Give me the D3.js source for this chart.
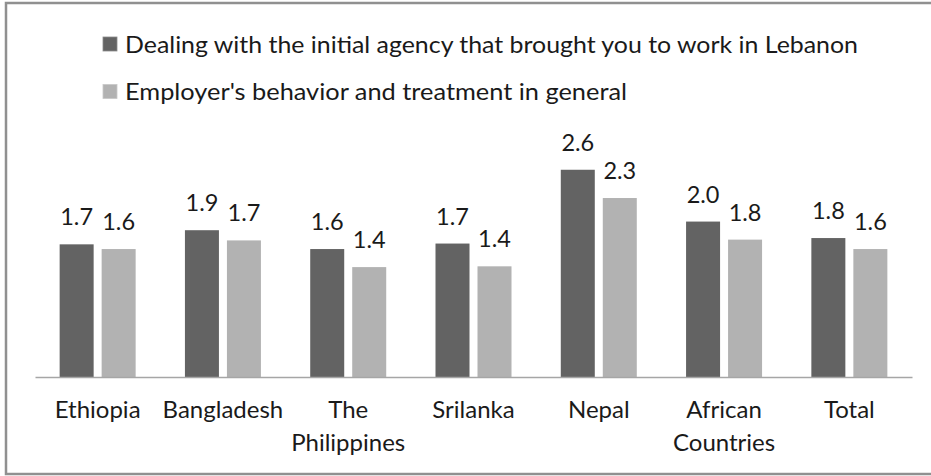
<!DOCTYPE html>
<html><head><meta charset="utf-8">
<script src="https://cdn.jsdelivr.net/npm/d3@7"></script>
<style>html,body{margin:0;padding:0;background:#fff;overflow:hidden}svg{display:block}</style>
</head><body>
<svg id="chart" width="931" height="476"></svg>
<script>
const categories = [["Ethiopia"],["Bangladesh"],["The","Philippines"],["Srilanka"],["Nepal"],["African","Countries"],["Total"]];
const seriesNames = ["Dealing with the initial agency that brought you to work in Lebanon","Employer's behavior and treatment in general"];
const agencyValues = [1.69,1.87,1.63,1.70,2.64,1.98,1.77];
const employerValues = [1.63,1.74,1.40,1.41,2.28,1.75,1.63];
const seriesColors = ["#636363","#b2b2b2"];

const svg = d3.select("#chart");
const font = "Lato, 'Open Sans', sans-serif";
const W = 931, H = 476;
const plot = {left:35, right:912, top:141.5, bottom:377};
const legendTextWidths = [733, 502];

// frame
svg.append("rect").attr("x",6).attr("y",3).attr("width",W).attr("height",471)
  .attr("fill","#fff").attr("stroke","#909090").attr("stroke-width",2.5);

const keys = categories.map(c=>c.join(" "));
const x0 = d3.scaleBand().domain(keys).range([plot.left, plot.right]).paddingInner(0).paddingOuter(0);
const groupW = 76;
const x1 = d3.scaleBand().domain([0,1]).range([-groupW/2, groupW/2]).paddingInner(8/42).paddingOuter(0);
const y = d3.scaleLinear().domain([0,3]).range([plot.bottom, plot.top]);

const data = keys.map((k,i)=>({key:k, vals:[agencyValues[i], employerValues[i]]}));

const g = svg.append("g");
const groups = g.selectAll("g.grp").data(data).join("g")
  .attr("transform", d=>`translate(${x0(d.key)+x0.bandwidth()/2},0)`);
groups.selectAll("rect").data(d=>d.vals.map((v,s)=>({v,s}))).join("rect")
  .attr("x", d=>x1(d.s)).attr("width", x1.bandwidth())
  .attr("y", d=>y(d.v)).attr("height", d=>y(0)-y(d.v))
  .attr("fill", d=>seriesColors[d.s]);
groups.selectAll("text").data(d=>d.vals.map((v,s)=>({v,s}))).join("text")
  .attr("x", d=>x1(d.s)+x1.bandwidth()/2).attr("y", d=>y(d.v)-19)
  .attr("text-anchor","middle").attr("font-family",font).attr("font-size",23.5)
  .attr("fill","#1a1a1a").text(d=>d3.format(".1f")(d.v));

// x axis
const xAxis = svg.append("g").attr("transform",`translate(0,${plot.bottom})`)
  .call(d3.axisBottom(x0).tickSize(0).tickFormat(""));
xAxis.select(".domain").attr("stroke","#a6a6a6").attr("stroke-width",1.3);
const tick = xAxis.selectAll(".tick");
tick.select("text").remove();
tick.append("text").attr("text-anchor","middle").attr("font-family",font)
  .attr("font-size",24).attr("fill","#1a1a1a")
  .each(function(d,i){
    const t = d3.select(this);
    categories[i].forEach((line,j)=>{
      t.append("tspan").attr("x",0).attr("y",41+j*33).text(line);
    });
  });

// legend
const leg = svg.append("g");
seriesNames.forEach((name,i)=>{
  const yy = 37 + i*47.5;
  leg.append("rect").attr("x",103).attr("y",yy).attr("width",14).attr("height",14)
    .attr("fill",seriesColors[i]).attr("stroke", i===0?"#8a8a8a":"#c8c8c8").attr("stroke-width",0.8);
  leg.append("text").attr("x",125).attr("y",yy+15.5).attr("font-family",font)
    .attr("font-size",24).attr("fill","#1a1a1a")
    .attr("textLength",legendTextWidths[i]).attr("lengthAdjust","spacingAndGlyphs")
    .text(name);
});
</script>
</body></html>
